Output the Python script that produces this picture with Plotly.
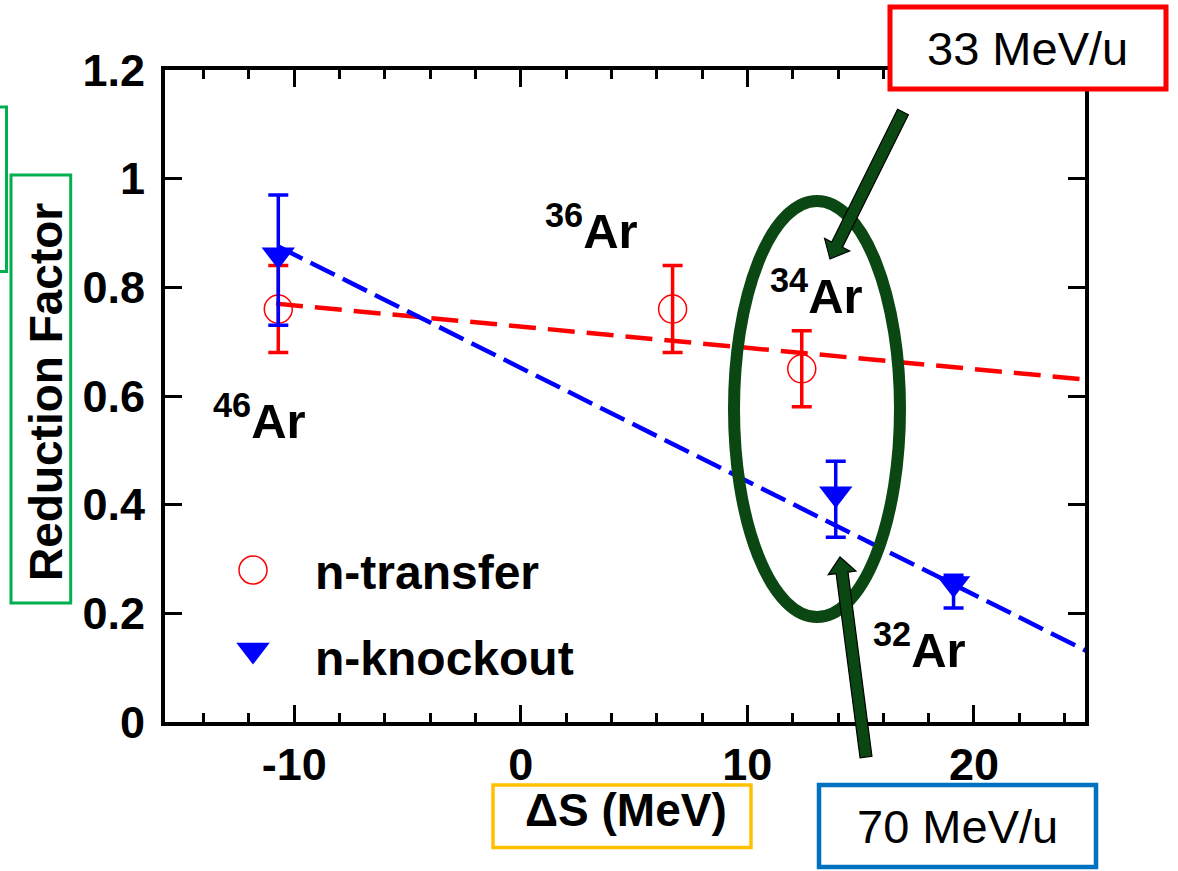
import math
import plotly.graph_objects as go

# ---------------------------------------------------------------- data
# n-transfer reduction factors (open circles)
transfer_x = [-10.7, 6.7, 12.4]
transfer_y = [0.76, 0.76, 0.65]
transfer_err = [0.08, 0.08, 0.07]

# n-knockout reduction factors (filled down triangles)
knockout_x = [-10.7, 13.9, 19.1]
knockout_y = [0.86, 0.42, 0.255]
knockout_err_plus = [0.11, 0.06, 0.015]
knockout_err_minus = [0.13, 0.08, 0.045]

# linear systematics drawn through each data set
transfer_fit_x = [-10.8, 25.0]
transfer_fit_y = [0.77, 0.63]
knockout_fit_x = [-10.7, 25.0]
knockout_fit_y = [0.875, 0.13]

# axis settings
x_range = [-15.7, 24.9]
y_range = [0.0, 1.2]
x_tickvals = [-10, 0, 10, 20]
x_ticktext = ["-10", "0", "10", "20"]
isotope_labels = ["46", "36", "34", "32"]
legend_names = ["n-transfer", "n-knockout"]
beam_energies = ["33 MeV/u", "70 MeV/u"]

# ---------------------------------------------------------------- page geometry
FIG_W, FIG_H = 1178, 871
L, R, T, B = 165, 1085, 70, 722          # plot area in pixels
PW, PH = R - L, B - T


def px(x):
    """pixel column -> paper x"""
    return (x - L) / PW


def py(y):
    """pixel row -> paper y"""
    return (B - y) / PH


FONT = "Liberation Sans, Arial, Helvetica, sans-serif"
RED = "#ff0000"
BLUE = "#0000ff"
DARK_GREEN = "#0b4712"
BOX_GREEN = "#00b050"
BOX_ORANGE = "#ffc000"
BOX_BLUE = "#0070c0"

fig = go.Figure()

# fitted trends
fig.add_trace(go.Scatter(
    x=transfer_fit_x, y=transfer_fit_y, mode="lines",
    line=dict(color=RED, width=4.5, dash="27px,12px"),
    showlegend=False, hoverinfo="skip"))
fig.add_trace(go.Scatter(
    x=knockout_fit_x, y=knockout_fit_y, mode="lines",
    line=dict(color=BLUE, width=4.5, dash="27px,9px"),
    showlegend=False, hoverinfo="skip"))

# measurements
fig.add_trace(go.Scatter(
    x=transfer_x, y=transfer_y, mode="markers", name=legend_names[0],
    marker=dict(symbol="circle-open", size=28, color=RED, line=dict(width=1.5, color=RED)),
    error_y=dict(type="data", array=transfer_err, color=RED, thickness=3.5, width=10),
    showlegend=False))
fig.add_trace(go.Scatter(
    x=knockout_x, y=knockout_y, mode="markers", name=legend_names[1],
    marker=dict(symbol="triangle-down", size=29, color=BLUE, line=dict(width=0)),
    error_y=dict(type="data", symmetric=False, array=knockout_err_plus,
                 arrayminus=knockout_err_minus, color=BLUE, thickness=3.5, width=10),
    showlegend=False))

# legend keys on an overlay axis that spans the plot area as [0, 1]
legend_key_x = px(253)
legend_row_y = [py(570), py(650)]
fig.add_trace(go.Scatter(
    x=[legend_key_x], y=[legend_row_y[0]], xaxis="x2", yaxis="y2", mode="markers",
    marker=dict(symbol="circle-open", size=28, color=RED, line=dict(width=1.5, color=RED)),
    showlegend=False, hoverinfo="skip"))
fig.add_trace(go.Scatter(
    x=[legend_key_x], y=[legend_row_y[1]], xaxis="x2", yaxis="y2", mode="markers",
    marker=dict(symbol="triangle-down", size=29, color=BLUE),
    showlegend=False, hoverinfo="skip"))

annotations = []

# legend text
for name, row_px in zip(legend_names, [572.4, 658.2]):
    annotations.append(dict(
        x=px(313), y=py(row_px), xref="paper", yref="paper", text=name,
        showarrow=False, xanchor="left", yanchor="middle",
        font=dict(family=FONT, size=48, color="black", weight="bold")))

# isotope labels: left edge and bottom of the text box, pixels
iso_pos = [(211, 450), (543, 260), (768, 325), (871, 679)]
for iso, (lx, by) in zip(isotope_labels, iso_pos):
    annotations.append(dict(
        x=px(lx), y=py(by), xref="paper", yref="paper",
        text=f"<sup>{iso}</sup>Ar", showarrow=False,
        xanchor="left", yanchor="bottom",
        font=dict(family=FONT, size=49, color="black", weight="bold")))

# axis titles
annotations.append(dict(
    x=px(625.5), y=py(810), xref="paper", yref="paper", text="ΔS (MeV)",
    showarrow=False, xanchor="center", yanchor="middle",
    font=dict(family=FONT, size=46, color="black", weight="bold")))
annotations.append(dict(
    x=px(46), y=py(392), xref="paper", yref="paper", text="Reduction Factor",
    showarrow=False, xanchor="center", yanchor="middle", textangle=-90,
    font=dict(family=FONT, size=46, color="black", weight="bold")))

# beam energy callouts
annotations.append(dict(
    x=px(1027.5), y=py(48.7), xref="paper", yref="paper", text=beam_energies[0],
    showarrow=False, xanchor="center", yanchor="middle",
    font=dict(family=FONT, size=47, color="black")))
annotations.append(dict(
    x=px(957.5), y=py(826.7), xref="paper", yref="paper", text=beam_energies[1],
    showarrow=False, xanchor="center", yanchor="middle",
    font=dict(family=FONT, size=47, color="black")))


def rect(x0, y0, x1, y1, color, width, fill="rgba(0,0,0,0)"):
    return dict(type="rect", xref="paper", yref="paper",
                x0=px(x0), x1=px(x1), y0=py(y0), y1=py(y1),
                line=dict(color=color, width=width), fillcolor=fill, layer="above")


def block_arrow(tail, tip, w=12, head_w=28, head_l=16):
    """Filled block arrow as an SVG path in paper coordinates."""
    (tx, ty), (hx, hy) = tail, tip
    length = math.hypot(hx - tx, hy - ty)
    ux, uy = (hx - tx) / length, (hy - ty) / length
    nx, ny = -uy, ux
    bx, by = hx - ux * head_l, hy - uy * head_l
    pts = [
        (tx + nx * w / 2, ty + ny * w / 2),
        (bx + nx * w / 2, by + ny * w / 2),
        (bx + nx * head_w / 2, by + ny * head_w / 2),
        (hx, hy),
        (bx - nx * head_w / 2, by - ny * head_w / 2),
        (bx - nx * w / 2, by - ny * w / 2),
        (tx - nx * w / 2, ty - ny * w / 2),
    ]
    path = "M " + " L ".join(f"{px(x):.5f},{py(y):.5f}" for x, y in pts) + " Z"
    return dict(type="path", xref="paper", yref="paper", path=path,
                fillcolor=DARK_GREEN, line=dict(color="black", width=1.2), layer="above")


shapes = [
    # highlight around the 34Ar points
    dict(type="circle", xref="paper", yref="paper",
         x0=px(734), x1=px(900), y0=py(617), y1=py(201),
         line=dict(color=DARK_GREEN, width=12), layer="above"),
    # label boxes
    rect(11, 175, 70.7, 603, BOX_GREEN, 3),
    rect(-20, 107, 6.5, 271.5, BOX_GREEN, 3),
    rect(493, 785, 751, 847.5, BOX_ORANGE, 3.5),
    rect(890, 7, 1166, 89, RED, 5, fill="white"),
    rect(819, 785, 1096, 867, BOX_BLUE, 4.5, fill="white"),
    # pointers from the beam energy boxes
    block_arrow((903, 112), (830, 259)),
    block_arrow((866, 757), (840, 557)),
]

axis_common = dict(
    showline=True, linecolor="black", linewidth=4, mirror="ticks",
    ticks="inside", tickcolor="black", tickwidth=3, ticklen=17,
    showgrid=False, zeroline=False,
    tickfont=dict(family=FONT, size=45, color="black", weight="bold"),
)

fig.update_layout(
    width=FIG_W, height=FIG_H,
    margin=dict(l=L, r=FIG_W - R, t=T, b=FIG_H - B),
    paper_bgcolor="white", plot_bgcolor="white",
    showlegend=False,
    xaxis=dict(range=x_range, tickmode="array", tickvals=x_tickvals, ticktext=x_ticktext,
               minor=dict(dtick=2, tick0=0, ticks="inside", ticklen=9, tickwidth=3,
                          tickcolor="black"),
               ticklabelstandoff=0, **axis_common),
    yaxis=dict(range=y_range, dtick=0.2, tick0=0, ticklabelstandoff=7, **axis_common),
    xaxis2=dict(overlaying="x", range=[0, 1], visible=False),
    yaxis2=dict(overlaying="y", range=[0, 1], visible=False),
    annotations=annotations,
    shapes=shapes,
)

fig.write_html("out.html")
